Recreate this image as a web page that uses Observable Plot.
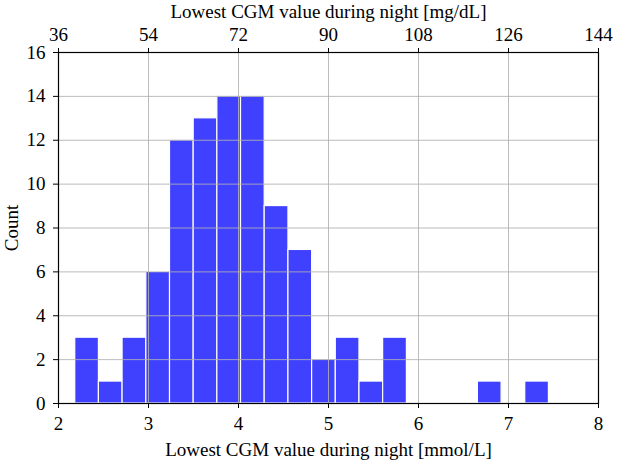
<!DOCTYPE html>
<html>
<head>
<meta charset="utf-8">
<script src="https://cdn.jsdelivr.net/npm/d3@7"></script>
<script src="https://cdn.jsdelivr.net/npm/@observablehq/plot@0.6"></script>
<style>
  html, body { margin: 0; padding: 0; background: white; }
</style>
</head>
<body>
<div id="chart"></div>
<script>
// Bin edges (mmol/L) and counts
const binEdges = [2.186, 2.449, 2.712, 2.976, 3.239, 3.502, 3.765, 4.028, 4.291, 4.555, 4.818,
                  5.081, 5.344, 5.607, 5.871, 6.134, 6.397, 6.660, 6.923, 7.186, 7.449];
const counts = [3, 1, 3, 6, 12, 13, 14, 14, 9, 7, 2, 3, 1, 3, 0, 0, 0, 1, 0, 1];
const mmolTicks = [2, 3, 4, 5, 6, 7, 8];
const mgTicks = [36, 54, 72, 90, 108, 126, 144];
const countTicks = [0, 2, 4, 6, 8, 10, 12, 14, 16];
const gridXTicks = [3, 4, 5, 6, 7];
const gridYTicks = [2, 4, 6, 8, 10, 12, 14];

const bins = counts.map((c, i) => ({x1: binEdges[i], x2: binEdges[i + 1], count: c}));

const chart = Plot.plot({
  width: 617,
  height: 462,
  marginLeft: 58,
  marginRight: 19,
  marginTop: 52,
  marginBottom: 59,
  style: {fontFamily: "'Liberation Serif', serif", fontSize: "19px", color: "black", background: "white"},
  x: {domain: [2, 8]},
  y: {domain: [0, 16]},
  marks: [
    Plot.rectY(bins.filter(d => d.count > 0), {x1: "x1", x2: "x2", y: "count", fill: "#4040ff", stroke: "white", strokeWidth: 1.2}),
    Plot.gridX(gridXTicks, {stroke: "#b0b0b0", strokeOpacity: 0.85, strokeWidth: 1}),
    Plot.gridY(gridYTicks, {stroke: "#b0b0b0", strokeOpacity: 0.85, strokeWidth: 1}),
    Plot.frame({stroke: "black", strokeWidth: 1.2}),
    Plot.axisX(mmolTicks, {anchor: "bottom", tickSize: 5, tickPadding: 8, label: "Lowest CGM value during night [mmol/L]", labelAnchor: "center", labelArrow: "none", labelOffset: 52, fontSize: 19}),
    Plot.axisX(mmolTicks, {anchor: "top", tickSize: 5, tickPadding: 7, tickFormat: (d) => mgTicks[mmolTicks.indexOf(d)], label: "Lowest CGM value during night [mg/dL]", labelAnchor: "center", labelArrow: "none", labelOffset: 48, fontSize: 19}),
    Plot.axisY(countTicks, {anchor: "left", tickSize: 5, tickPadding: 8, label: "Count", labelAnchor: "center", labelArrow: "none", labelOffset: 54, fontSize: 19})
  ]
});
document.getElementById("chart").appendChild(chart);
</script>
</body>
</html>
